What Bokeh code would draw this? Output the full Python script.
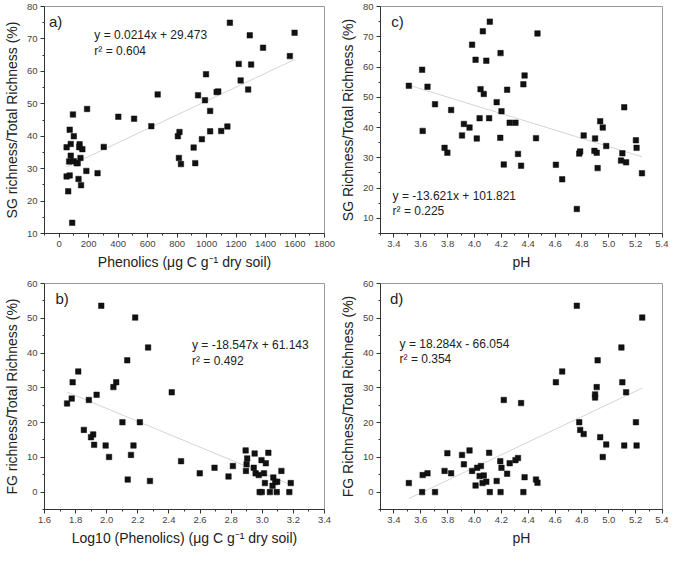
from bokeh.plotting import figure
from bokeh.layouts import column, row
from bokeh.models import Label, FixedTicker, NumeralTickFormatter, Range1d
from bokeh.embed import file_html
from bokeh.resources import INLINE

# ---------------- data ----------------
# Panel a: Phenolics vs SG richness / total richness
phen_x = [1158, 1293, 1597, 1383, 1565, 1218, 1302, 996, 1231, 1282, 668, 942, 1068, 1079,
          989, 1024, 401, 508, 625, 805, 816, 1024, 1099, 1141, 968, 912, 302, 812, 826, 923,
          260, 184, 93, 189, 71, 99, 78, 50, 138, 136, 157, 78, 144, 67, 99, 118, 125, 50,
          71, 131, 148, 61, 88]
sg_a = [75.0, 71.1, 71.9, 67.3, 64.7, 62.3, 62.1, 59.1, 57.2, 54.4, 52.9, 52.6, 53.6, 53.8,
        51.1, 47.8, 46.0, 45.4, 43.1, 40.0, 41.3, 41.5, 41.6, 43.0, 39.1, 36.5, 36.7, 33.3, 31.4, 31.7,
        28.6, 29.3, 46.7, 48.4, 42.0, 40.0, 37.6, 36.6, 37.5, 36.6, 36.0, 34.0, 33.3, 32.2, 32.3, 31.7, 31.7, 27.6,
        27.9, 26.8, 24.9, 23.0, 13.3]

# Panel b: Log10 phenolics vs FG richness / total richness
logphen_x = [1.965, 2.183, 2.266, 2.132, 1.817, 1.781, 2.061, 2.043, 1.935, 1.775, 1.885, 1.745,
             2.101, 2.213, 1.853, 1.913, 1.899, 1.919, 1.993, 2.172, 2.156, 2.015, 2.135, 2.278,
             2.418, 2.478, 2.598, 2.693, 2.783, 2.811, 2.893, 2.951, 2.903, 3.039, 2.995, 3.023,
             2.899, 2.945, 2.895, 3.123, 2.957, 2.977, 3.011, 3.071, 3.096, 3.083, 3.017, 3.066,
             3.183, 2.983, 2.997, 3.049, 3.093, 3.174]
fg_b = [53.6, 50.2, 41.6, 37.9, 34.7, 31.6, 31.6, 30.2, 28.0, 26.9, 26.5, 25.5,
        20.1, 20.1, 17.9, 16.6, 15.8, 13.6, 13.4, 13.4, 10.7, 10.1, 3.6, 3.2,
        28.7, 8.9, 5.4, 7.0, 4.5, 7.5, 12.0, 11.1, 9.7, 11.3, 9.2, 8.3,
        8.0, 7.0, 6.1, 6.1, 5.4, 4.9, 5.4, 4.2, 3.0, 2.9, 2.6, 1.8,
        2.6, 0.0, 0.0, 0.0, 0.0, 0.0]

# Panel c: pH vs SG richness / total richness
ph_c = [4.114, 4.062, 4.469, 3.982, 4.194, 4.008, 4.088, 3.610, 4.373, 4.364, 3.511, 3.650,
        4.045, 4.243, 4.069, 3.706, 4.165, 3.826, 4.201, 5.115, 3.921, 4.038, 4.109, 4.262,
        4.305, 4.936, 4.955, 3.963, 3.614, 3.907, 4.017, 4.192, 4.458, 4.813, 4.898, 5.202,
        4.981, 5.207, 3.777, 3.798, 4.780, 4.787, 4.893, 4.910, 4.324, 5.101, 5.091, 5.129,
        4.218, 4.347, 4.606, 4.917, 5.247, 4.653, 4.762]
sg_c = [75.0, 71.8, 71.1, 67.4, 64.6, 62.4, 62.1, 59.1, 57.2, 54.3, 53.8, 53.5,
        52.7, 52.5, 51.1, 47.7, 48.4, 45.8, 45.4, 46.7, 41.2, 43.1, 43.1, 41.6,
        41.6, 42.1, 40.0, 40.0, 38.9, 37.4, 36.4, 36.6, 36.5, 37.4, 36.4, 35.8,
        33.9, 33.3, 33.3, 31.7, 31.4, 32.1, 32.3, 31.7, 31.3, 31.5, 29.1, 28.5,
        27.8, 27.4, 27.7, 26.6, 24.9, 22.9, 13.1]

# Panel d: pH vs FG richness / total richness
ph_d = [4.762, 5.249, 5.094, 4.917, 4.653, 4.606, 5.101, 4.910, 5.129, 4.898, 4.898, 4.218,
        4.347, 4.780, 5.202, 4.787, 4.813, 4.936, 4.981, 5.115, 5.207, 4.955, 3.963, 3.798,
        3.907, 4.109, 4.192, 4.324, 4.305, 3.921, 4.201, 4.020, 4.048, 4.262, 3.777, 3.826,
        3.982, 4.243, 3.614, 3.650, 4.038, 4.069, 4.373, 4.458, 4.469, 4.165, 4.088, 4.060,
        4.008, 3.511, 3.610, 3.706, 4.114, 4.194, 4.364]
fg_d = [53.6, 50.2, 41.6, 37.9, 34.7, 31.6, 31.6, 30.2, 28.7, 28.1, 27.2, 26.5,
        25.6, 20.1, 20.1, 17.9, 16.7, 15.8, 13.7, 13.4, 13.4, 10.1, 12.0, 11.2,
        10.7, 11.3, 8.9, 9.8, 9.2, 8.0, 7.0, 7.0, 7.5, 8.3, 6.1, 5.4,
        6.1, 5.3, 4.9, 5.4, 4.6, 4.8, 4.3, 3.6, 2.7, 3.2, 3.0, 2.6,
        1.9, 2.6, 0.0, 0.0, 0.0, 0.0, 0.0]

# Fitted regressions (slope, intercept) as printed on the chart
fit_a = (0.0214, 29.473)
fit_b = (-18.547, 61.143)
fit_c = (-13.621, 101.821)
fit_d = (18.284, -66.054)

eq_a = ["y = 0.0214x + 29.473", "r\u00b2 = 0.604"]
eq_b = ["y = -18.547x + 61.143", "r\u00b2 = 0.492"]
eq_c = ["y = -13.621x + 101.821", "r\u00b2 = 0.225"]
eq_d = ["y = 18.284x - 66.054", "r\u00b2 = 0.354"]

# ticks
phen_ticks = [0, 200, 400, 600, 800, 1000, 1200, 1400, 1600, 1800]
phen_minor = [-100, 100, 300, 500, 700, 900, 1100, 1300, 1500, 1700]
logphen_ticks = [1.6, 1.8, 2.0, 2.2, 2.4, 2.6, 2.8, 3.0, 3.2, 3.4]
logphen_minor = [1.7, 1.9, 2.1, 2.3, 2.5, 2.7, 2.9, 3.1, 3.3]
ph_ticks = [3.4, 3.6, 3.8, 4.0, 4.2, 4.4, 4.6, 4.8, 5.0, 5.2, 5.4]
ph_minor = [3.3, 3.5, 3.7, 3.9, 4.1, 4.3, 4.5, 4.7, 4.9, 5.1, 5.3]
sg_ticks = [10, 20, 30, 40, 50, 60, 70, 80]
sg_minor = [5, 15, 25, 35, 45, 55, 65, 75]
fg_ticks = [0, 10, 20, 30, 40, 50, 60]
fg_minor = [-5, 5, 15, 25, 35, 45, 55]

FONT = "Liberation Sans"


def make_panel(xs, ys, fit, eq, tag, xlabel, ylabel, xr, yr, xt, xm, yt, ym,
               xfmt, width, height, mb, tag_pos, eq_pos):
    p = figure(width=width, height=height, output_backend="svg", toolbar_location=None,
               x_range=Range1d(*xr), y_range=Range1d(*yr),
               min_border_left=mb[0], min_border_right=mb[1],
               min_border_top=mb[2], min_border_bottom=mb[3])
    p.xgrid.visible = False
    p.ygrid.visible = False
    p.outline_line_color = "#9a9a9a"
    p.outline_line_width = 1
    p.background_fill_color = "white"
    p.border_fill_color = "white"

    p.xaxis.ticker = FixedTicker(ticks=xt, minor_ticks=xm)
    p.yaxis.ticker = FixedTicker(ticks=yt, minor_ticks=ym)
    if xfmt:
        p.xaxis.formatter = NumeralTickFormatter(format=xfmt)
    for ax in (p.xaxis[0], p.yaxis[0]):
        ax.axis_line_color = "#333333"
        ax.major_tick_line_color = "#333333"
        ax.minor_tick_line_color = "#333333"
        ax.major_tick_in = 0
        ax.major_tick_out = 4
        ax.minor_tick_in = 0
        ax.minor_tick_out = 2
        ax.major_label_text_font = FONT
        ax.major_label_text_font_size = "9.5px"
        ax.major_label_text_color = "#444444"
        ax.major_label_standoff = 3
        ax.axis_label_text_font = FONT
        ax.axis_label_text_font_size = "14px"
        ax.axis_label_text_font_style = "normal"
        ax.axis_label_text_color = "#222222"
        ax.axis_label_standoff = 4
    p.xaxis.axis_label = xlabel
    p.yaxis.axis_label = ylabel

    # regression line across the range of the data
    x0, x1 = min(xs), max(xs)
    p.line([x0, x1], [fit[0] * x0 + fit[1], fit[0] * x1 + fit[1]],
           line_color="#d4d4d4", line_width=1)

    p.scatter(xs, ys, marker="square", size=5.5, fill_color="#111111",
              line_color="#111111", line_width=0.5)

    p.add_layout(Label(x=tag_pos[0], y=tag_pos[1], text=tag, text_font=FONT,
                       text_font_size="15px", text_color="#222222", text_baseline="top"))
    p.add_layout(Label(x=eq_pos[0], y=eq_pos[1], text=eq[0], text_font=FONT,
                       text_font_size="12px", text_color="#222222", text_baseline="middle"))
    p.add_layout(Label(x=eq_pos[0], y=eq_pos[2], text=eq[1], text_font=FONT,
                       text_font_size="12px", text_color="#222222", text_baseline="middle"))
    return p


pa = make_panel(phen_x, sg_a, fit_a, eq_a, "a)",
                "Phenolics (\u03bcg C g\u207b\u00b9 dry soil)", "SG richness/Total Richness (%)",
                (-100, 1800), (10, 80), phen_ticks, phen_minor, sg_ticks, sg_minor, None,
                336, 275, (36, 12, 6, 42), (-70, 78), (238, 71.1, 66.3))
pc = make_panel(ph_c, sg_c, fit_c, eq_c, "c)",
                "pH", "SG Richness/Total Richness (%)",
                (3.3, 5.4), (5, 80), ph_ticks, ph_minor, sg_ticks, sg_minor, "0.0",
                332, 275, (36, 6, 6, 42), (3.38, 78), (3.39, 17.4, 12.3))
pb = make_panel(logphen_x, fg_b, fit_b, eq_b, "b)",
                "Log10 (Phenolics) (\u03bcg C g\u207b\u00b9 dry soil)", "FG richness/Total Richness (%)",
                (1.6, 3.4), (-5, 60), logphen_ticks, logphen_minor, fg_ticks, fg_minor, "0.0",
                336, 274, (36, 12, 8, 40), (1.67, 58), (2.548, 42.2, 37.6))
pd_ = make_panel(ph_d, fg_d, fit_d, eq_d, "d)",
                 "pH", "FG Richness/Total Richness (%)",
                 (3.3, 5.4), (-5, 60), ph_ticks, ph_minor, fg_ticks, fg_minor, "0.0",
                 332, 274, (36, 6, 8, 40), (3.37, 58), (3.442, 42.5, 38.2))

layout = column(row(pa, pc), row(pb, pd_))

open("out.html", "w").write(file_html(layout, INLINE))
